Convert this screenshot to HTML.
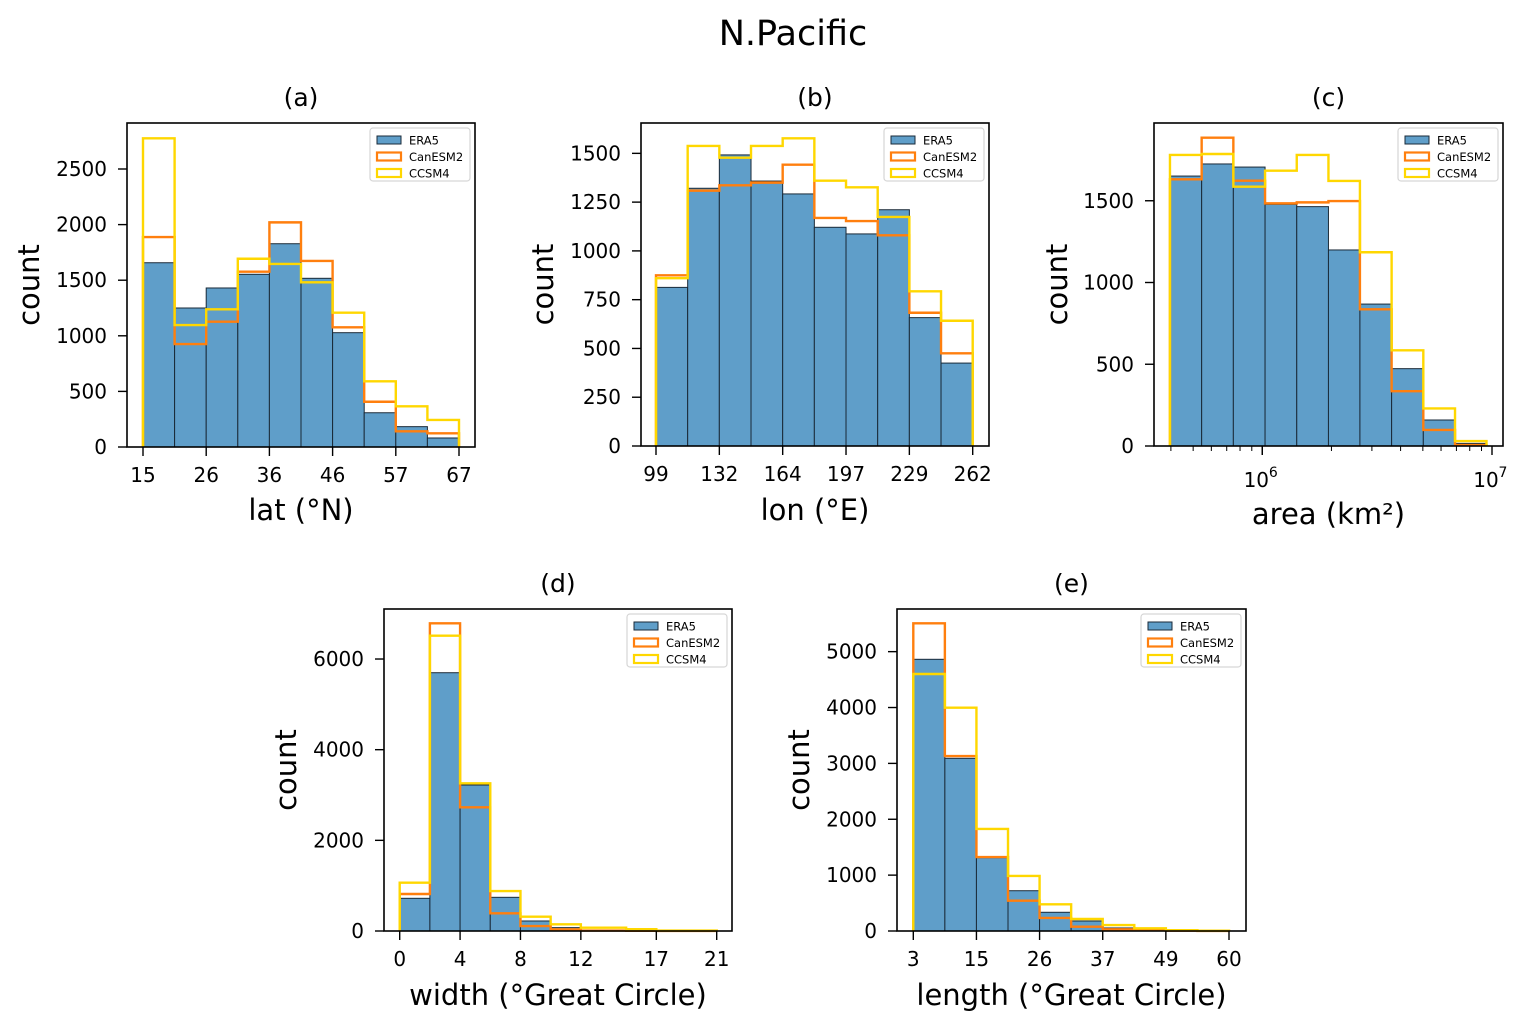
<!DOCTYPE html>
<html><head><meta charset="utf-8"><style>
html,body{margin:0;padding:0;background:#fff;}
svg{display:block;font-family:"DejaVu Sans","Liberation Sans",sans-serif;}
</style></head><body>
<svg id="fig" width="1526" height="1030" viewBox="0 0 1526 1030" xmlns="http://www.w3.org/2000/svg">
<rect width="1526" height="1030" fill="#fff"/>
<text x="793" y="45" font-size="35" text-anchor="middle">N.Pacific</text>
</svg>
<script>
// ---- data ----
const latEdges=[15,20.2,25.4,30.6,35.8,41,46.2,51.4,56.6,61.8,67];
const latEra5=[1657,1250,1430,1553,1828,1517,1028,308,183,81];
const latCan=[1888,926,1127,1577,2020,1673,1076,407,141,123];
const latCcsm=[2776,1097,1238,1693,1646,1481,1208,591,366,243];
const latTicks=[15,26,36,46,57,67];
const latTickPos=[15,25.4,35.8,46.2,56.6,67];
const latYTicks=[0,500,1000,1500,2000,2500];

const lonEdges=[99,115.3,131.6,147.9,164.2,180.5,196.8,213.1,229.4,245.7,262];
const lonEra5=[813,1321,1492,1358,1292,1121,1087,1211,658,425];
const lonCan=[875,1309,1336,1350,1442,1169,1153,1080,683,475];
const lonCcsm=[860,1538,1478,1538,1577,1360,1326,1174,793,642];
const lonTicks=[99,132,164,197,229,262];
const lonTickPos=[99,131.6,164.2,196.8,229.4,262];
const lonYTicks=[0,250,500,750,1000,1250,1500];

const areaLogEdges=[5.598,5.736,5.874,6.012,6.150,6.288,6.425,6.563,6.701,6.839,6.976];
const areaEra5=[1651,1725,1706,1478,1464,1199,868,473,159,16];
const areaCan=[1631,1886,1623,1484,1490,1498,836,335,98,6];
const areaCcsm=[1780,1786,1586,1684,1780,1621,1185,585,230,30];
const areaYTicks=[0,500,1000,1500];

const widthEdges=[0,2,4,6,8,10,12,15,17,21];
const widthEra5=[721,5698,3220,743,221,74,20,6,3];
const widthCan=[816,6787,2728,390,110,37,10,5,2];
const widthCcsm=[1066,6515,3257,882,316,147,74,40,10];
const widthTicks=[0,4,8,12,17,21];
const widthYTicks=[0,2000,4000,6000];

const lenEdges=[3,8.7,14.4,20.1,25.8,31.5,37.2,42.9,48.6,54.3,60];
const lenEra5=[4863,3091,1312,721,335,179,54,20,10,3];
const lenCan=[5507,3132,1324,542,233,77,30,15,5,2];
const lenCcsm=[4600,3997,1826,985,478,215,107,48,15,5];
const lenTicks=[3,15,26,37,49,60];
const lenTickPos=[3,14.4,25.8,37.2,48.6,60];
const lenYTicks=[0,1000,2000,3000,4000,5000];

// ---- drawing ----
const NS='http://www.w3.org/2000/svg';
const fig=document.getElementById('fig');
function mk(tag,attrs,parent){const e=document.createElementNS(NS,tag);for(const k in attrs)e.setAttribute(k,attrs[k]);(parent||fig).appendChild(e);return e;}

function panel(o){
  const g=mk('g',{});
  
  
  const X=o.xf, Y=v=>o.y0-(v)*o.ys;
  o.era.forEach((v,i)=>{
    const x1=X(o.edges[i]),x2=X(o.edges[i+1]);
    const r=mk('rect',{x:x1,y:Y(v),width:x2-x1,height:o.y0-Y(v),fill:'#5f9ec9',stroke:'#1a2a38','stroke-width':1},g);
    
    
  });
  function step(vals,color,nm){
    let d='M'+X(o.edges[0])+','+o.y0;
    vals.forEach((v,i)=>{d+=' L'+X(o.edges[i])+','+Y(v)+' L'+X(o.edges[i+1])+','+Y(v);});
    d+=' L'+X(o.edges[vals.length])+','+o.y0;
    const p=mk('path',{d:d,fill:'none',stroke:color,'stroke-width':2.4,'stroke-linejoin':'miter'},g);
    
    
  }
  step(o.can,'#ff7f0e','canesm2-step');
  step(o.ccsm,'#ffd700','ccsm4-step');
  const fr=mk('rect',{x:o.L,y:o.T,width:o.R-o.L,height:o.y0-o.T,fill:'none',stroke:'#000','stroke-width':1.6},g);
  
  
  o.yt.forEach(v=>{
    mk('line',{x1:o.L-9,x2:o.L,y1:Y(v),y2:Y(v),stroke:'#000','stroke-width':1.4},g);
    const t=mk('text',{x:o.L-20,y:Y(v)+7,'font-size':20,'text-anchor':'end'},g);
    t.textContent=v;
    
    
  });
  if(o.xt){o.xt.forEach((v,i)=>{
    const px=X(o.xtp[i]);
    mk('line',{x1:px,x2:px,y1:o.y0,y2:o.y0+9,stroke:'#000','stroke-width':1.4},g);
    const t=mk('text',{x:px,y:o.y0+35,'font-size':20,'text-anchor':'middle'},g);
    t.textContent=v;
    
    
  });}
  if(o.extra)o.extra(g,X);
  const tt=mk('text',{x:(o.L+o.R)/2,y:o.T-17,'font-size':25,'text-anchor':'middle'},g);
  tt.textContent=o.title;
  
  
  const xl=mk('text',{x:(o.L+o.R)/2,y:o.xly,'font-size':29,'text-anchor':'middle'},g);
  xl.textContent=o.xlabel;
  
  
  const cy=(o.T+o.y0)/2;
  const yl=mk('text',{x:o.ylx,y:cy,'font-size':29,'text-anchor':'middle',transform:'rotate(-90 '+o.ylx+' '+cy+')'},g);
  yl.textContent='count';
  
  
  const lg=mk('g',{},g);
  
  
  const lx=o.R-105, ly=o.T+5;
  mk('rect',{x:lx,y:ly,width:100,height:53,rx:3,fill:'#fff','fill-opacity':0.85,stroke:'#d6d6d6','stroke-width':1.2},lg);
  const items=[['ERA5','#5f9ec9','#1a2a38',1],['CanESM2','none','#ff7f0e',2.2],['CCSM4','none','#ffd700',2.2]];
  items.forEach((it,i)=>{
    const yy=ly+9+i*16.5;
    mk('rect',{x:lx+7,y:yy-1,width:24,height:8,fill:it[1],stroke:it[2],'stroke-width':it[3]},lg);
    const t=mk('text',{x:lx+39,y:yy+7.5,'font-size':11.5},lg);
    t.textContent=it[0];
    
    
  });
}
function lin(d0,d1,p0,p1){return v=>p0+(v-d0)*(p1-p0)/(d1-d0);}

panel({name:'panel-a-lat',L:127,R:475,T:123,y0:447,ys:0.1112,xf:lin(15,67,143,459),edges:latEdges,era:latEra5,can:latCan,ccsm:latCcsm,yt:latYTicks,xt:latTicks,xtp:latTickPos,title:'(a)',xlabel:'lat (°N)',xly:520,ylx:39});
panel({name:'panel-b-lon',L:641,R:989,T:123,y0:446,ys:0.1951,xf:lin(99,262,656,972.7),edges:lonEdges,era:lonEra5,can:lonCan,ccsm:lonCcsm,yt:lonYTicks,xt:lonTicks,xtp:lonTickPos,title:'(b)',xlabel:'lon (°E)',xly:520,ylx:553});
const logX=v=>1262.3+(v-6)*229.7;
panel({name:'panel-c-area',L:1154,R:1503,T:123,y0:446,ys:0.1635,xf:logX,edges:areaLogEdges,era:areaEra5,can:areaCan,ccsm:areaCcsm,yt:areaYTicks,title:'(c)',xlabel:'area (km²)',xly:524,ylx:1067,
  extra:(g,X)=>{
    for(let dec=5;dec<=6;dec++){for(let m=1;m<=10;m++){
      const v=dec+Math.log10(m); if(v<5.53||v>7.04)continue;
      const major=(m===1||m===10);
      const px=X(v);
      mk('line',{x1:px,x2:px,y1:446,y2:446+(major?9:5),stroke:'#000','stroke-width':major?1.4:1},g);
    }}
    [6,7].forEach(e=>{
      const t=mk('text',{x:X(e)-6,y:487,'font-size':20,'text-anchor':'middle'},g);
      t.textContent='10';
      
      
      const s=mk('text',{x:X(e)+11,y:477,'font-size':14,'text-anchor':'middle'},g);
      s.textContent=e;
    });
  }});
panel({name:'panel-d-width',L:384,R:732,T:609,y0:931,ys:0.04533,xf:lin(0,21,399.7,716.7),edges:widthEdges,era:widthEra5,can:widthCan,ccsm:widthCcsm,yt:widthYTicks,xt:widthTicks,xtp:widthTicks,title:'(d)',xlabel:'width (°Great Circle)',xly:1005,ylx:296});
panel({name:'panel-e-length',L:897,R:1246,T:609,y0:931,ys:0.05587,xf:lin(3,60,913.3,1229),edges:lenEdges,era:lenEra5,can:lenCan,ccsm:lenCcsm,yt:lenYTicks,xt:lenTicks,xtp:lenTickPos,title:'(e)',xlabel:'length (°Great Circle)',xly:1005,ylx:809});
</script>
</body></html>
